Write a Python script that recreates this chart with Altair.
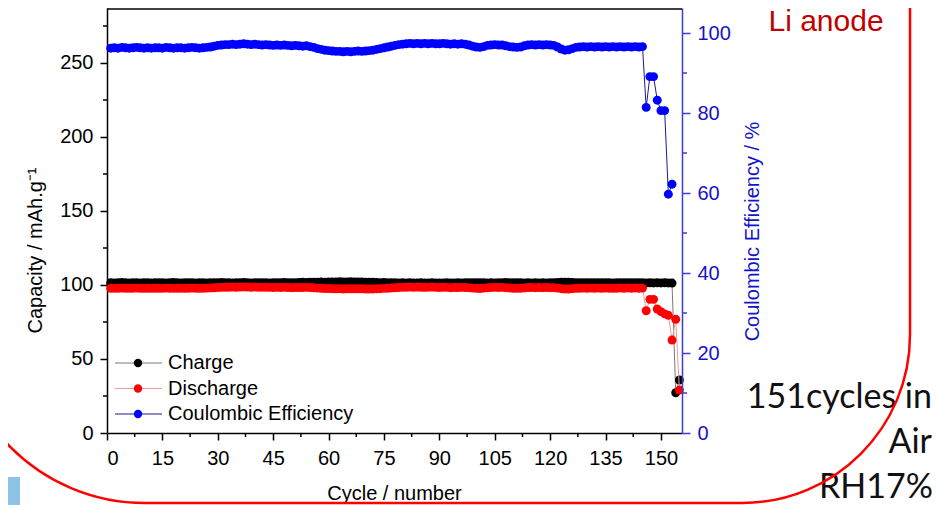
import altair as alt
import pandas as pd

# ---------------- data ----------------
charge = [
    101.6, 101.4, 101.5, 101.7, 101.5, 101.4, 101.6, 101.5, 101.3, 101.5,
    101.6, 101.4, 101.5, 101.5, 101.6, 101.4, 101.5, 101.7, 101.5, 101.4,
    101.5, 101.6, 101.5, 101.3, 101.5, 101.6, 101.4, 101.5, 101.6, 101.5,
    101.7, 101.5, 101.6, 101.4, 101.5, 101.6, 101.7, 101.5, 101.4, 101.6,
    101.5, 101.6, 101.5, 101.4, 101.6, 101.5, 101.5, 101.7, 101.6, 101.5,
    101.6, 101.7, 101.8, 101.7, 101.9, 101.8, 101.9, 102.0, 101.9, 102.1,
    102.0, 102.1, 102.2, 102.0, 102.1, 102.2, 102.1, 102.0, 102.1, 101.9,
    101.8, 101.9, 101.7, 101.6, 101.7, 101.5, 101.6, 101.5, 101.4, 101.5,
    101.4, 101.5, 101.3, 101.4, 101.5, 101.3, 101.4, 101.5, 101.4, 101.3,
    101.4, 101.5, 101.4, 101.3, 101.5, 101.4, 101.5, 101.6, 101.5, 101.6,
    101.5, 101.6, 101.4, 101.5, 101.4, 101.5, 101.6, 101.7, 101.6, 101.5,
    101.6, 101.5, 101.4, 101.5, 101.4, 101.5, 101.4, 101.5, 101.4, 101.5,
    101.6, 101.7, 101.8, 101.9, 101.8, 101.7, 101.6, 101.5, 101.6, 101.5,
    101.6, 101.5, 101.6, 101.5, 101.6, 101.5, 101.4, 101.5, 101.6, 101.5,
    101.6, 101.5, 101.6, 101.5, 101.6, 101.4, 101.5, 101.4, 101.5, 101.4,
    101.5, 101.4, 101.3, 27.2, 35.8,
]

discharge = [
    97.8, 97.7, 97.8, 97.9, 97.8, 97.7, 97.8, 97.9, 97.8, 97.7,
    97.8, 97.7, 97.8, 97.8, 97.7, 97.9, 97.8, 97.7, 97.8, 97.8,
    97.7, 97.8, 97.9, 97.8, 97.7, 97.8, 97.9, 98.0, 98.1, 98.3,
    98.4, 98.5, 98.5, 98.6, 98.5, 98.6, 98.7, 98.6, 98.5, 98.6,
    98.5, 98.4, 98.5, 98.4, 98.3, 98.4, 98.3, 98.4, 98.3, 98.2,
    98.3, 98.3, 98.3, 98.4, 98.3, 98.1, 97.9, 97.8, 97.6, 97.6,
    97.5, 97.4, 97.5, 97.3, 97.4, 97.4, 97.4, 97.4, 97.4, 97.3,
    97.3, 97.3, 97.4, 97.5, 97.7, 97.8, 98.0, 98.1, 98.3, 98.4,
    98.5, 98.6, 98.4, 98.6, 98.5, 98.5, 98.4, 98.6, 98.4, 98.3,
    98.5, 98.4, 98.2, 98.3, 98.3, 98.4, 98.3, 98.2, 97.9, 97.8,
    97.6, 97.9, 98.1, 98.3, 98.4, 98.3, 98.4, 98.2, 98.0, 97.8,
    97.8, 97.8, 98.0, 98.3, 98.3, 98.2, 98.3, 98.2, 98.3, 98.2,
    98.2, 97.9, 97.5, 97.3, 97.3, 97.5, 97.8, 97.8, 97.9, 97.8,
    97.9, 97.8, 97.9, 97.8, 97.9, 97.8, 97.8, 97.8, 98.0, 97.8,
    98.0, 97.8, 98.0, 97.8, 97.9, 82.6, 90.3, 90.3, 83.8, 82.0,
    80.5, 79.5, 62.8, 76.8, 29.0,
]

coulombic = [
    96.2, 96.3, 96.2, 96.4, 96.3, 96.2, 96.3, 96.4, 96.3, 96.2,
    96.3, 96.2, 96.3, 96.3, 96.2, 96.4, 96.3, 96.2, 96.3, 96.3,
    96.2, 96.3, 96.4, 96.3, 96.2, 96.3, 96.4, 96.5, 96.7, 96.9,
    97.0, 97.1, 97.1, 97.2, 97.1, 97.2, 97.3, 97.2, 97.1, 97.2,
    97.1, 97.0, 97.1, 97.0, 96.9, 97.0, 96.9, 97.0, 96.9, 96.8,
    96.9, 96.8, 96.7, 96.8, 96.6, 96.4, 96.1, 95.9, 95.7, 95.6,
    95.5, 95.4, 95.4, 95.3, 95.4, 95.3, 95.4, 95.5, 95.4, 95.5,
    95.6, 95.7, 95.9, 96.1, 96.3, 96.5, 96.7, 96.9, 97.1, 97.2,
    97.3, 97.4, 97.3, 97.4, 97.3, 97.4, 97.3, 97.4, 97.3, 97.3,
    97.4, 97.3, 97.2, 97.3, 97.2, 97.3, 97.2, 97.0, 96.7, 96.5,
    96.4, 96.6, 96.9, 97.0, 97.1, 97.0, 97.0, 96.8, 96.6, 96.5,
    96.4, 96.5, 96.8, 97.0, 97.1, 97.0, 97.1, 97.0, 97.1, 97.0,
    96.9, 96.5, 96.0, 95.7, 95.8, 96.1, 96.4, 96.5, 96.6, 96.5,
    96.6, 96.5, 96.6, 96.5, 96.6, 96.5, 96.6, 96.5, 96.6, 96.5,
    96.6, 96.5, 96.6, 96.5, 96.6, 81.4, 89.1, 89.1, 83.2, 80.6,
    80.6, 59.7, 62.2,
]

x_ticks = [0, 15, 30, 45, 60, 75, 90, 105, 120, 135, 150]
x_minor = [7.5, 22.5, 37.5, 52.5, 67.5, 82.5, 97.5, 112.5, 127.5, 142.5]
cap_ticks = [0, 50, 100, 150, 200, 250]
cap_minor = [25, 75, 125, 175, 225, 275]
ce_ticks = [0, 20, 40, 60, 80, 100]
ce_minor = [10, 30, 50, 70, 90]

legend_names = ["Charge", "Discharge", "Coulombic Efficiency"]
legend_rows = [0, 1, 2]
marker_colors = ["#000000", "#ff0000", "#0000ff"]
line_colors = ["#7a7a7a", "#f09a9a", "#1a1a90"]

# ---------------- tables ----------------
df_charge = pd.DataFrame({"cycle": list(range(1, len(charge) + 1)), "value": charge})
df_dis = pd.DataFrame({"cycle": list(range(1, len(discharge) + 1)), "value": discharge})
df_ce = pd.DataFrame({"cycle": list(range(1, len(coulombic) + 1)), "value": coulombic})
df_xminor = pd.DataFrame({"cycle": x_minor})
df_capminor = pd.DataFrame({"value": cap_minor})
df_ceminor = pd.DataFrame({"value": ce_minor})
df_leg = pd.DataFrame({"name": legend_names, "row": legend_rows,
                       "mcolor": marker_colors, "lcolor": line_colors})
one = pd.DataFrame({"a": [0]})

FONT = "Liberation Sans"
W, H = 575, 425
BLUE_AX = "#3c3cd0"
BLUE_TXT = "#1414c8"

x_enc = alt.X(
    "cycle:Q",
    scale=alt.Scale(domain=[0, 155.7], nice=False, zero=False),
    axis=alt.Axis(values=x_ticks, title="Cycle / number", tickSize=7, labelPadding=8,
                  titleX=287, titleY=60, titleBaseline="middle",
                  domainColor="black", tickColor="black", domainWidth=1.5, tickWidth=1.5),
)
y_cap = alt.Y(
    "value:Q",
    scale=alt.Scale(domain=[0, 287.16], nice=False),
    axis=alt.Axis(values=cap_ticks, title="Capacity / mAh.g\u207b\u00b9", orient="left",
                  tickSize=7, labelPadding=7, titleX=-72, titleY=242,
                  titleBaseline="middle", titleAngle=270,
                  domainColor="black", tickColor="black", domainWidth=1.5, tickWidth=1.5),
)
y_ce = alt.Y(
    "value:Q",
    scale=alt.Scale(domain=[0, 106.25], nice=False),
    axis=alt.Axis(values=ce_ticks, title="Coulombic Efficiency / %", orient="right",
                  tickSize=8, labelPadding=7, titleX=70, titleY=223,
                  titleBaseline="middle", titleAngle=270,
                  domainColor=BLUE_AX, tickColor=BLUE_AX, labelColor=BLUE_TXT,
                  titleColor=BLUE_TXT, domainWidth=1.5, tickWidth=1.5, zindex=1),
)

SZ = 80
charge_line = alt.Chart(df_charge).mark_line(color=line_colors[0], strokeWidth=1).encode(x=x_enc, y=y_cap)
charge_pts = alt.Chart(df_charge).mark_circle(color=marker_colors[0], size=SZ, opacity=1).encode(x=x_enc, y=y_cap)
dis_line = alt.Chart(df_dis).mark_line(color=line_colors[1], strokeWidth=1).encode(x=x_enc, y=y_cap)
dis_pts = alt.Chart(df_dis).mark_circle(color=marker_colors[1], size=SZ, opacity=1).encode(x=x_enc, y=y_cap)
cap_minor_ticks = alt.Chart(df_capminor).mark_rule(color="black", strokeWidth=1.5).encode(
    y=y_cap, x=alt.value(0), x2=alt.value(-4))
x_minor_ticks = alt.Chart(df_xminor).mark_rule(color="black", strokeWidth=1.5).encode(
    x=x_enc, y=alt.value(H), y2=alt.value(H + 4))

left = alt.layer(cap_minor_ticks, x_minor_ticks, charge_line, charge_pts, dis_line, dis_pts)

ce_line = alt.Chart(df_ce).mark_line(color=line_colors[2], strokeWidth=1).encode(x=x_enc, y=y_ce)
ce_pts = alt.Chart(df_ce).mark_circle(color=marker_colors[2], size=SZ, opacity=1).encode(x=x_enc, y=y_ce)
ce_minor_ticks = alt.Chart(df_ceminor).mark_rule(color=BLUE_AX, strokeWidth=1.5).encode(
    y=y_ce, x=alt.value(W), x2=alt.value(W + 5))

right = alt.layer(ce_minor_ticks, ce_line, ce_pts)

# legend (manual, Origin style)
leg_y = alt.Y("row:Q", scale=alt.Scale(domain=[0, 2], range=[355, 406]), axis=None)
leg_lines = alt.Chart(df_leg).mark_rule(strokeWidth=1.2).encode(
    y=leg_y, x=alt.value(8), x2=alt.value(55),
    stroke=alt.Stroke("lcolor:N", scale=None))
leg_pts = alt.Chart(df_leg).mark_circle(size=70, opacity=1).encode(
    y=leg_y, x=alt.value(31), fill=alt.Fill("mcolor:N", scale=None))
leg_txt = alt.Chart(df_leg).mark_text(align="left", baseline="middle", font=FONT,
                                      fontSize=20, color="black").encode(
    y=leg_y, x=alt.value(61), text="name:N")
legend = alt.layer(leg_lines, leg_pts, leg_txt)

# frame top line
top_line = alt.Chart(one).mark_rule(color="black", strokeWidth=1.5).encode(
    x=alt.value(0), x2=alt.value(W), y=alt.value(1))

# slide annotations
li_anode = alt.Chart(one).mark_text(text="Li anode", font=FONT, fontSize=30, color="#c00000",
                                    align="center", baseline="alphabetic").encode(
    x=alt.value(719), y=alt.value(23))
t1 = alt.Chart(one).mark_text(text="151cycles in", font="Lato", fontSize=34, color="#111111",
                              align="right", baseline="alphabetic").encode(
    x=alt.value(825), y=alt.value(400))
t2 = alt.Chart(one).mark_text(text="Air", font="Lato", fontSize=34, color="#111111",
                              align="right", baseline="alphabetic").encode(
    x=alt.value(825), y=alt.value(445))
t3 = alt.Chart(one).mark_text(text="RH17%", font="Lato", fontSize=34, color="#111111",
                              align="right", baseline="alphabetic").encode(
    x=alt.value(826), y=alt.value(490))
blue_box = alt.Chart(one).mark_rect(color="#8ec3e8").encode(
    x=alt.value(-99), x2=alt.value(-87), y=alt.value(469), y2=alt.value(497))
red_frame = alt.Chart(one).mark_rect(fillOpacity=0, stroke="#ff0000", strokeWidth=2.5,
                                     cornerRadiusBottomLeft=190, cornerRadiusBottomRight=168).encode(
    x=alt.value(-152), x2=alt.value(803), y=alt.value(-500), y2=alt.value(495))

chart = alt.layer(
    left, right, legend, top_line, li_anode, t1, t2, t3, blue_box, red_frame
).resolve_scale(y="independent").properties(
    width=W, height=H,
    autosize=alt.AutoSizeParams(type="none"),
    padding={"left": 99, "top": 0, "right": 252, "bottom": 72},
    background="white",
).configure_view(strokeWidth=0).configure_axis(
    grid=False, labelFont=FONT, titleFont=FONT, labelFontSize=20, titleFontSize=20,
    titleFontWeight="normal", labelColor="black", titleColor="black",
)

chart.save("out.html", embed_options={"renderer": "svg", "actions": False})
